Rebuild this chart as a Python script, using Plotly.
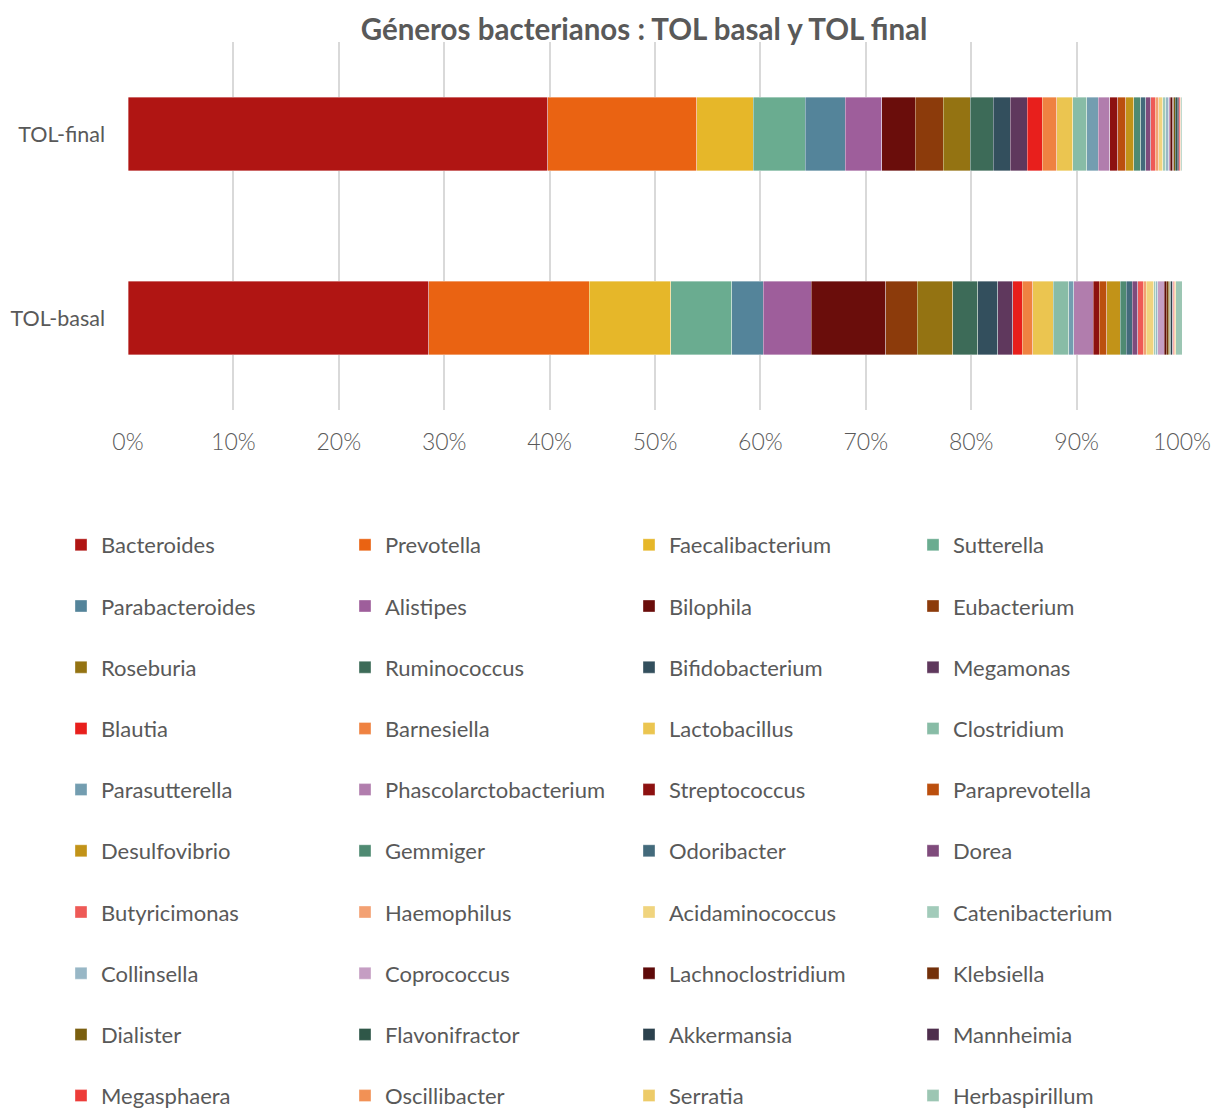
import plotly.graph_objects as go

# ---------------- data ----------------
samples = ["TOL-basal", "TOL-final"]

genera = [
    "Bacteroides", "Prevotella", "Faecalibacterium", "Sutterella",
    "Parabacteroides", "Alistipes", "Bilophila", "Eubacterium",
    "Roseburia", "Ruminococcus", "Bifidobacterium", "Megamonas",
    "Blautia", "Barnesiella", "Lactobacillus", "Clostridium",
    "Parasutterella", "Phascolarctobacterium", "Streptococcus", "Paraprevotella",
    "Desulfovibrio", "Gemmiger", "Odoribacter", "Dorea",
    "Butyricimonas", "Haemophilus", "Acidaminococcus", "Catenibacterium",
    "Collinsella", "Coprococcus", "Lachnoclostridium", "Klebsiella",
    "Dialister", "Flavonifractor", "Akkermansia", "Mannheimia",
    "Megasphaera", "Oscillibacter", "Serratia", "Herbaspirillum",
]

basal_vals = [
    28.5, 15.2, 7.75, 5.79,
    2.97, 4.52, 7.09, 3.0,
    3.32, 2.37, 1.93, 1.39,
    0.92, 1.01, 1.93, 1.49,
    0.47, 1.83, 0.57, 0.70,
    1.27, 0.60, 0.57, 0.51,
    0.54, 0.25, 0.73, 0.19,
    0.19, 0.63, 0.19, 0.15,
    0.15, 0.12, 0.12, 0.07,
    0.06, 0.12, 0.08, 0.60,
]

final_vals = [
    39.8, 14.1, 5.34, 4.93,
    3.80, 3.48, 3.16, 2.66,
    2.56, 2.18, 1.61, 1.61,
    1.42, 1.39, 1.52, 1.30,
    1.11, 1.07, 0.79, 0.76,
    0.73, 0.66, 0.47, 0.50,
    0.41, 0.35, 0.35, 0.28,
    0.31, 0.15, 0.20, 0.13,
    0.15, 0.15, 0.13, 0.10,
    0.07, 0.07, 0.05, 0.05,
]

tick_vals = [0, 10, 20, 30, 40, 50, 60, 70, 80, 90, 100]

# ---------------- style ----------------
colors = [
    "#B01513", "#EA6312", "#E6B729", "#6AAC90",
    "#54849A", "#9E5E9B", "#6A0D0B", "#8C3B0B",
    "#947312", "#3D6B58", "#334F5D", "#5F385D",
    "#E81F1C", "#EF8241", "#EBC550", "#88BCA6",
    "#739DB0", "#B17DAD", "#8D1110", "#BB4F0E",
    "#C29318", "#4F8A72", "#436A7B", "#7F4B7C",
    "#EE5A57", "#F3A173", "#F0D47E", "#A2CBBA",
    "#98B7C6", "#C59EC3", "#5E0A09", "#73300A",
    "#7A5F0F", "#2F5748", "#2B414D", "#4E2E4D",
    "#ED3C39", "#F29155", "#EDCB68", "#9CC6B3",
]

TXT = "#595959"
FONT = "Lato, 'Open Sans', sans-serif"
W, H = 1212, 1108
PL, PR, PT, PB = 128, 1182, 42, 410  # plot area in px
PW, PH = PR - PL, PB - PT

fig = go.Figure()
ncol = 4
for i, g in enumerate(genera):
    row = i // ncol
    leg = "legend" if row == 0 else f"legend{row + 1}"
    fig.add_trace(go.Bar(
        y=samples,
        x=[basal_vals[i], final_vals[i]],
        name=g,
        orientation="h",
        marker=dict(color=colors[i], line=dict(width=0.8, color="rgba(255,255,255,0.45)")),
        legend=leg,
        hovertemplate="%{y}<br>" + g + ": %{x:.2f}%<extra></extra>",
    ))

nrows = (len(genera) + ncol - 1) // ncol
row_y0, row_dy = 545, 61.2
legend_left_px = 61
legends = {}
for r in range(nrows):
    key = "legend" if r == 0 else f"legend{r + 1}"
    yc = row_y0 + r * row_dy
    legends[key] = dict(
        orientation="h",
        xref="paper", yref="paper",
        x=(legend_left_px - PL) / PW, xanchor="left",
        y=(PB - yc) / PH, yanchor="middle",
        entrywidth=239, entrywidthmode="pixels",
        font=dict(family=FONT, size=22, color=TXT),
        bgcolor="rgba(0,0,0,0)",
        traceorder="normal",
        itemclick=False, itemdoubleclick=False,
    )

fig.update_layout(
    width=W, height=H,
    barmode="stack", barnorm="percent",
    bargap=0.6,
    plot_bgcolor="white", paper_bgcolor="white",
    margin=dict(l=PL, r=W - PR, t=PT, b=H - PB, pad=0, autoexpand=False),
    title=dict(
        text="<b>Géneros bacterianos : TOL basal y TOL final</b>",
        x=644 / W, xanchor="center",
        y=1 - 30 / H, yanchor="middle",
        font=dict(family=FONT, size=29.5, color=TXT),
    ),
    xaxis=dict(
        range=[0, 100],
        tickvals=tick_vals,
        ticktext=[f"{v}%" for v in tick_vals],
        showgrid=True, gridcolor="#D9D9D9", gridwidth=1.5,
        zeroline=False, showline=False, ticks="",
        tickfont=dict(family=FONT, size=23, color=TXT, weight=300),
        ticklabelstandoff=16,
        fixedrange=True,
    ),
    yaxis=dict(
        showgrid=False, zeroline=False, showline=False, ticks="",
        tickfont=dict(family=FONT, size=21.5, color=TXT),
        ticklabelstandoff=22,
        fixedrange=True,
    ),
    **legends,
)

fig.write_html("out.html")
